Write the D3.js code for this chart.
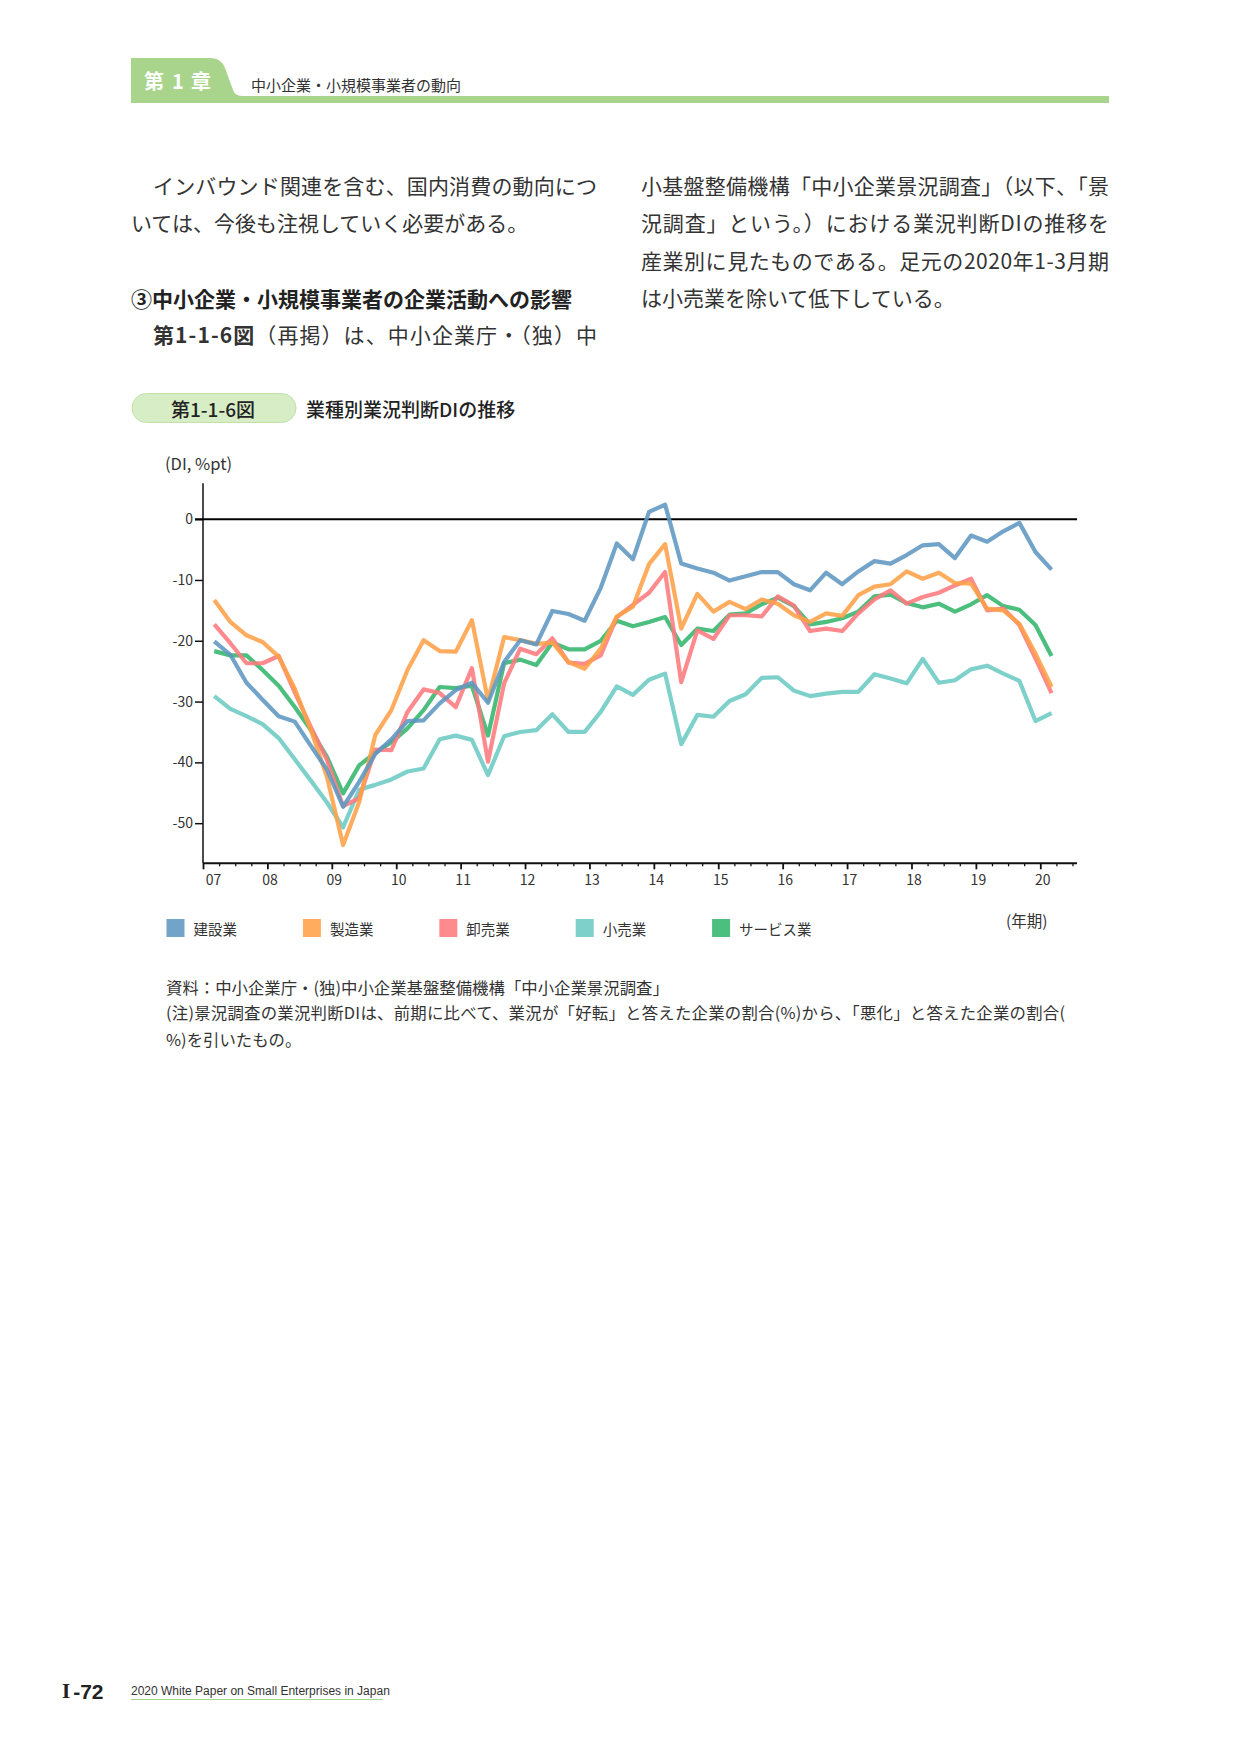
<!DOCTYPE html>
<html lang="ja">
<head>
<meta charset="utf-8">
<script src="https://cdn.jsdelivr.net/npm/d3@7"></script>
<style>
  html, body { margin: 0; padding: 0; background: #fff; }
  svg { display: block; }
</style>
</head>
<body>
<svg id="page" width="1241" height="1754"></svg>
<script>
// ---- data (DI, %pt), quarterly 2007 Jan-Mar .. 2020 Jan-Mar ----
const yearLabels = ["07","08","09","10","11","12","13","14","15","16","17","18","19","20"];
const seriesNames = ["建設業", "製造業", "卸売業", "小売業", "サービス業"];

const construction = [-20.1,-22.3,-26.9,-29.7,-32.4,-33.3,-37.3,-41.2,-47.3,-43.2,
  -38.6,-36.2,-33.2,-33.1,-30.3,-28.1,-26.9,-30.2,-23.5,-19.9,
  -20.6,-15.1,-15.6,-16.7,-11.3,-4.0,-6.6,1.2,2.4,-7.3,
  -8.1,-8.8,-10.1,-9.4,-8.7,-8.7,-10.7,-11.7,-8.8,-10.7,
  -8.6,-6.9,-7.3,-5.9,-4.3,-4.1,-6.4,-2.7,-3.7,-2.0,
  -0.6,-5.4,-8.3];
const manufacturing = [-13.3,-16.9,-19.1,-20.2,-22.6,-27.9,-34.7,-42.4,-53.6,-46.5,
  -35.5,-31.4,-24.8,-19.9,-21.7,-21.8,-16.6,-29.8,-19.4,-19.9,
  -20.5,-20.3,-23.5,-24.6,-21.3,-16.0,-14.4,-7.4,-4.1,-18.0,
  -12.3,-15.2,-13.6,-14.8,-13.2,-13.9,-15.8,-16.9,-15.5,-15.9,
  -12.5,-11.1,-10.7,-8.6,-9.8,-8.8,-10.5,-10.6,-14.7,-15.0,
  -17.2,-22.1,-27.6];
const wholesale = [-17.3,-20.4,-23.7,-23.7,-22.5,-28.5,-34.2,-39.6,-47.2,-45.9,
  -37.9,-38.0,-31.7,-28.0,-28.6,-30.9,-24.5,-39.9,-27.0,-21.3,
  -22.2,-19.6,-23.6,-23.8,-22.4,-16.1,-14.1,-12.1,-8.7,-26.8,
  -18.3,-19.7,-15.8,-15.8,-16.0,-12.7,-14.2,-18.4,-18.0,-18.4,
  -15.5,-13.2,-11.7,-13.9,-12.8,-12.1,-10.9,-9.8,-15.0,-14.7,
  -17.4,-22.9,-28.6];
const retail = [-29.1,-31.2,-32.4,-33.7,-36.0,-39.5,-43.0,-46.6,-50.7,-44.5,
  -43.7,-42.8,-41.5,-41.0,-36.2,-35.6,-36.3,-42.1,-35.7,-35.0,
  -34.7,-32.1,-35.0,-35.0,-31.7,-27.5,-28.9,-26.4,-25.4,-37.0,
  -32.2,-32.5,-29.9,-28.8,-26.1,-26.0,-28.2,-29.1,-28.7,-28.4,
  -28.4,-25.5,-26.2,-27.0,-23.0,-26.9,-26.5,-24.7,-24.1,-25.4,
  -26.6,-33.2,-31.9];
const services = [-21.7,-22.4,-22.4,-24.8,-27.4,-30.9,-34.7,-39.1,-45.1,-40.5,
  -38.4,-36.7,-34.4,-31.4,-27.6,-27.8,-27.4,-35.6,-23.7,-23.1,
  -24.0,-20.3,-21.4,-21.4,-20.0,-16.7,-17.6,-16.9,-16.1,-20.7,
  -18.0,-18.4,-15.7,-15.5,-14.0,-12.9,-14.3,-17.3,-16.9,-16.3,
  -15.2,-12.7,-12.4,-13.8,-14.5,-13.9,-15.2,-14.0,-12.5,-14.3,
  -14.9,-17.4,-22.5];
const yTicks = [0, -10, -20, -30, -40, -50];

// quarter periods: 2007Q1 .. 2020Q1
const periods = [];
for (let yr = 2007; yr <= 2020; yr++) {
  for (let q = 1; q <= 4; q++) {
    if (yr === 2020 && q > 1) break;
    periods.push({ year: yr, q });
  }
}

const colors = ["#5e96c0", "#ffa148", "#ff7a7e", "#6cc9c3", "#33b56c"];
const seriesData = [construction, manufacturing, wholesale, retail, services];

const JP = "'Noto Sans CJK JP', 'Noto Sans', sans-serif";
const GREEN = "#a8d48b";
const svg = d3.select("#page");

// ---- page header ----
svg.append("path")
  .attr("d", "M131,58 H211 Q221,58 225,68 L233,90 Q235,96 243,96 H131 Z")
  .attr("fill", GREEN);
svg.append("rect").attr("x", 131).attr("y", 96).attr("width", 978).attr("height", 7).attr("fill", GREEN);
[["第", 154], ["1", 178], ["章", 201]].forEach(([t, cx]) => {
  svg.append("text").attr("x", cx).attr("y", 80).attr("text-anchor", "middle")
    .attr("dominant-baseline", "central")
    .attr("font-family", JP).attr("font-weight", 700).attr("font-size", 20)
    .attr("fill", "#fff").text(t);
});
svg.append("text").attr("x", 251).attr("y", 84).attr("dominant-baseline", "central")
  .attr("font-family", JP).attr("font-size", 15).attr("fill", "#333")
  .text("中小企業・小規模事業者の動向");

// ---- body text ----
function bodyLine(txt, x, y, opts = {}) {
  const t = svg.append("text").attr("x", x).attr("y", y)
    .attr("dominant-baseline", "central")
    .attr("font-family", JP).attr("font-size", opts.size || 21)
    .attr("font-weight", opts.weight || 400)
    .attr("fill", opts.fill || "#333");
  if (opts.width) t.attr("textLength", opts.width).attr("lengthAdjust", "spacing");
  if (Array.isArray(txt)) {
    txt.forEach(([s, w]) => t.append("tspan").attr("font-weight", w).text(s));
  } else t.text(txt);
  return t;
}
bodyLine("インバウンド関連を含む、国内消費の動向につ", 153, 185, { width: 444 });
bodyLine("いては、今後も注視していく必要がある。", 131, 222);
bodyLine("③中小企業・小規模事業者の企業活動への影響", 131, 297.5, { weight: 700, fill: "#222" });
bodyLine([["第1-1-6図", 700], ["（再掲）は、中小企業庁・（独）中", 400]], 153, 334, { width: 444 });

bodyLine("小基盤整備機構「中小企業景況調査」（以下、「景", 641, 185, { width: 468 });
bodyLine("況調査」という。）における業況判断DIの推移を", 641, 222, { width: 468 });
bodyLine("産業別に見たものである。足元の2020年1-3月期", 641, 259.5, { width: 468 });
bodyLine("は小売業を除いて低下している。", 641, 297);

// ---- figure title ----
svg.append("rect").attr("x", 132).attr("y", 393.5).attr("width", 164).attr("height", 29)
  .attr("rx", 14.5).attr("fill", "#d7edc6").attr("stroke", "#c3e0ab").attr("stroke-width", 1);
svg.append("text").attr("x", 213).attr("y", 408).attr("text-anchor", "middle")
  .attr("dominant-baseline", "central").attr("font-family", JP).attr("font-size", 19)
  .attr("font-weight", 500).attr("fill", "#222").text("第1-1-6図");
svg.append("text").attr("x", 306).attr("y", 408)
  .attr("dominant-baseline", "central").attr("font-family", JP).attr("font-size", 19)
  .attr("font-weight", 500).attr("fill", "#222").text("業種別業況判断DIの推移");

// ---- chart ----
const x = d3.scaleLinear().domain([2007, 2020.57]).range([203, 1077]);
const y = d3.scaleLinear().domain([-56.6, 5.9]).range([863.3, 483.3]);
const px = (p) => x(p.year + (p.q - 1) / 4 + 0.175);

const chart = svg.append("g");

chart.append("text").attr("x", 165).attr("y", 463).attr("dominant-baseline", "central")
  .attr("font-family", JP).attr("font-size", 16.5).attr("fill", "#333").text("(DI, %pt)");

// y axis
const yAxis = chart.append("g").attr("transform", `translate(${x.range()[0]},0)`)
  .call(d3.axisLeft(y).tickValues(yTicks).tickSize(8).tickPadding(2).tickFormat((d) => String(d)));
yAxis.select(".domain").remove();
yAxis.selectAll("line").attr("stroke", "#111").attr("stroke-width", 1.5);
yAxis.selectAll("text").attr("font-family", JP).attr("font-size", 14).attr("fill", "#333");
chart.append("line").attr("x1", x.range()[0]).attr("x2", x.range()[0])
  .attr("y1", y.range()[1]).attr("y2", y.range()[0]).attr("stroke", "#111").attr("stroke-width", 1.5);

// x axis: minor (quarters) and major (years)
const years = d3.range(2007, 2021);
const quarterTicks = d3.range(2007, 2020.51, 0.25).filter((t) => t % 1 !== 0);
const xMinor = chart.append("g").attr("transform", `translate(0,${y.range()[0]})`)
  .call(d3.axisBottom(x).tickValues(quarterTicks).tickSize(3).tickFormat(""));
xMinor.select(".domain").remove();
xMinor.selectAll("line").attr("stroke", "#111").attr("stroke-width", 1.3);

const xMajor = chart.append("g").attr("transform", `translate(0,${y.range()[0]})`)
  .call(d3.axisBottom(x).tickValues(years).tickSize(6).tickFormat((d, i) => yearLabels[i]));
xMajor.select(".domain").remove();
xMajor.selectAll("line").attr("stroke", "#111").attr("stroke-width", 1.8);
xMajor.selectAll("text").attr("font-family", JP).attr("font-size", 14).attr("fill", "#333")
  .attr("y", 17).attr("dy", "0.35em")
  .attr("dx", (d, i) => (i === 0 ? 10 : 2));
chart.append("line").attr("x1", x.range()[0]).attr("x2", x.range()[1])
  .attr("y1", y.range()[0]).attr("y2", y.range()[0]).attr("stroke", "#111").attr("stroke-width", 2);

// zero line
chart.append("line").attr("x1", x.range()[0] - 8).attr("x2", x.range()[1])
  .attr("y1", y(0)).attr("y2", y(0)).attr("stroke", "#000").attr("stroke-width", 2);

// series lines (last legend item drawn first)
const line = d3.line().x((d, i) => px(periods[i])).y((d) => y(d));
const order = [4, 3, 2, 1, 0];
chart.append("g").selectAll("path").data(order).join("path")
  .attr("d", (k) => line(seriesData[k]))
  .attr("fill", "none")
  .attr("stroke", (k) => colors[k])
  .attr("stroke-width", 4.2)
  .attr("stroke-opacity", 0.88)
  .attr("stroke-linejoin", "round");

// legend
const legend = chart.append("g");
seriesNames.forEach((name, i) => {
  const lx = 166.5 + i * 136.4;
  legend.append("rect").attr("x", lx).attr("y", 919).attr("width", 18).attr("height", 18)
    .attr("fill", colors[i]).attr("fill-opacity", 0.88);
  legend.append("text").attr("x", lx + 27).attr("y", 928).attr("dominant-baseline", "central")
    .attr("font-family", JP).attr("font-size", 14.5).attr("fill", "#333").text(name);
});
chart.append("text").attr("x", 1006).attr("y", 920).attr("dominant-baseline", "central")
  .attr("font-family", JP).attr("font-size", 15.5).attr("fill", "#333").text("(年期)");

// source / notes
const notes = [
  "資料：中小企業庁・(独)中小企業基盤整備機構「中小企業景況調査」",
  "(注)景況調査の業況判断DIは、前期に比べて、業況が「好転」と答えた企業の割合(%)から、「悪化」と答えた企業の割合(",
  "%)を引いたもの。",
];
const noteY = [986.5, 1012, 1038.5];
notes.forEach((t, i) => {
  const nt = svg.append("text").attr("x", 166).attr("y", noteY[i]).attr("dominant-baseline", "central")
    .attr("font-family", JP).attr("font-size", 16.4).attr("fill", "#333").text(t);
  if (i === 1) nt.attr("textLength", 899).attr("lengthAdjust", "spacing");
});

// ---- footer ----
const foot = svg.append("text").attr("x", 62).attr("y", 1691).attr("dominant-baseline", "central")
  .attr("font-size", 21).attr("font-weight", 700).attr("fill", "#222");
foot.append("tspan").attr("font-family", "'Liberation Serif', serif").text("I");
foot.append("tspan").attr("font-family", "'Liberation Sans', sans-serif").attr("dx", 3).text("-72");
svg.append("text").attr("x", 131).attr("y", 1691).attr("dominant-baseline", "central")
  .attr("font-family", "'Liberation Sans', Arial, sans-serif").attr("font-size", 12).attr("fill", "#333")
  .text("2020 White Paper on Small Enterprises in Japan");
svg.append("line").attr("x1", 131).attr("x2", 383).attr("y1", 1699.5).attr("y2", 1699.5)
  .attr("stroke", GREEN).attr("stroke-width", 1.2);
</script>
</body>
</html>
